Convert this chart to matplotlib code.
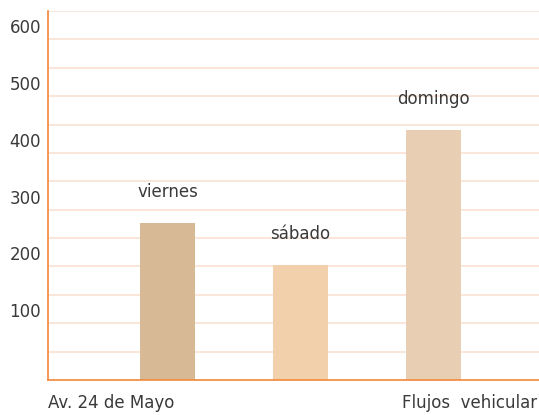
import matplotlib
matplotlib.use("Agg")
import matplotlib.pyplot as plt
import matplotlib.transforms as mtransforms

categories = ["viernes", "sábado", "domingo"]
values = [276, 202, 440]
colors = ["#d7b996", "#f2d0ab", "#e8cfb3"]
yticks = [100, 200, 300, 400, 500, 600]
xlabels = ["Av. 24 de Mayo", "Flujos  vehicular"]

plt.rcParams['font.family'] = ['DejaVu Sans']
FS = 12
TXT = "#3a3a3a"
fig = plt.figure(figsize=(5.39, 4.15), dpi=100)
ax = fig.add_axes([48/539, 1-380/415, 491/539, 369/415])

x = list(range(len(categories)))
ax.bar(x, values, width=0.41, color=colors, zorder=2)
for xi, v, c in zip(x, values, categories):
    ax.annotate(c, (xi, v), xytext=(0, 22.5), textcoords="offset points",
                ha="center", va="center", fontsize=FS, color=TXT)

ax.set_xlim(-0.898, 2.793)
ax.set_ylim(0, 650)
for g in range(50, 651, 50):
    ax.axhline(g, color="#fbe3d2", lw=1.2, zorder=1)
ax.set_yticks([])
ax.set_xticks([])
trans = mtransforms.blended_transform_factory(ax.transAxes, ax.transData) + \
    mtransforms.ScaledTranslation(-5/72, 8/72, fig.dpi_scale_trans)
for t in yticks:
    ax.text(0, t, str(t), transform=trans, ha="right", va="center",
            fontsize=FS, color=TXT, clip_on=False)
for s in ["top", "right"]:
    ax.spines[s].set_visible(False)
ax.spines["left"].set_color("#f4883a")
ax.spines["bottom"].set_color("#f4883a")
ax.spines["left"].set_linewidth(1.2)
ax.spines["bottom"].set_linewidth(1.2)

fig.text(48/539, 1-403/415, xlabels[0], ha="left", va="center", fontsize=FS, color=TXT)
fig.text(537/539, 1-403/415, xlabels[1], ha="right", va="center", fontsize=FS, color=TXT)

fig.savefig("out.png", dpi=100)
